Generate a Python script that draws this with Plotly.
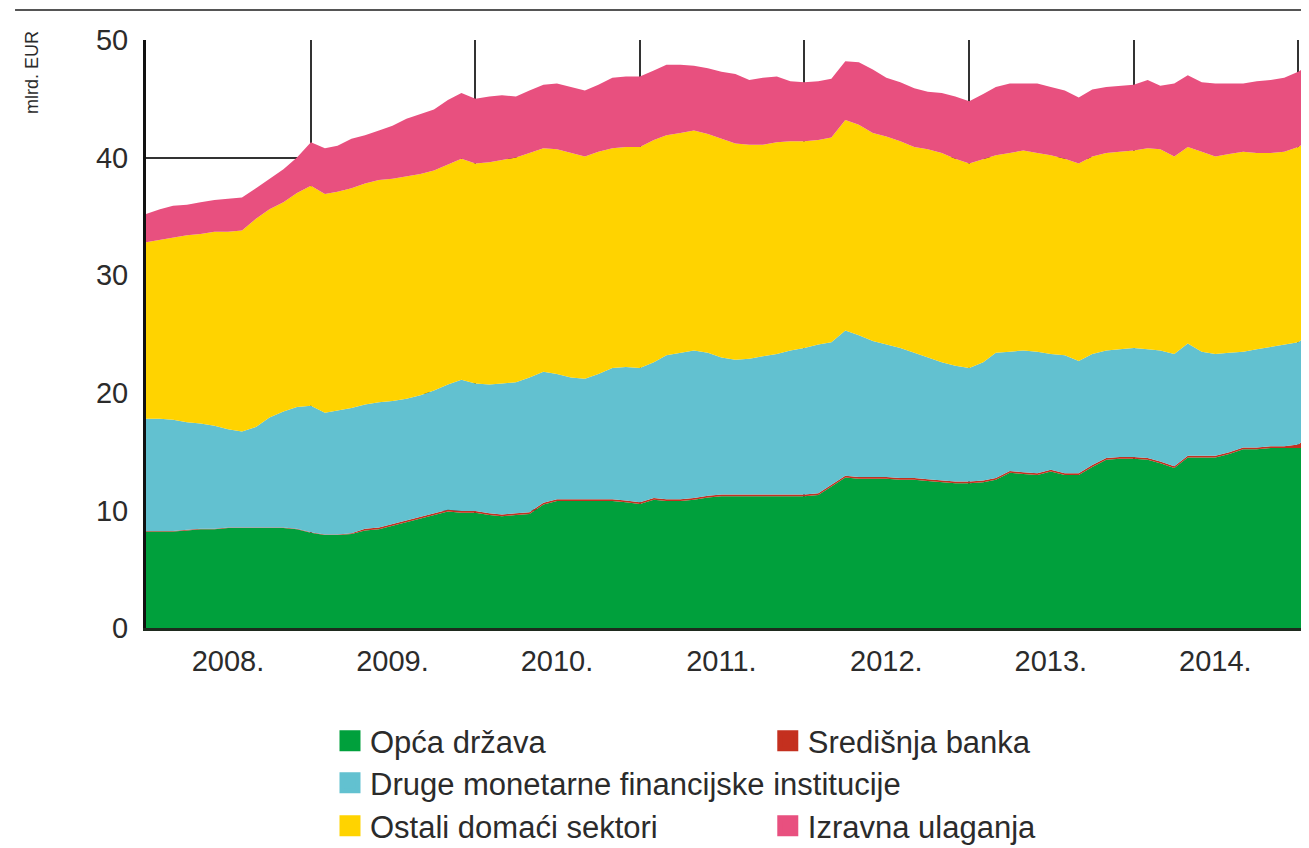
import pandas as pd
import plotly.graph_objects as go

# monthly observations, Jan 2008 - Feb 2015 (billions of EUR)
months = pd.date_range("2008-01-01", periods=86, freq="MS")

opca_drzava = [
    8.2, 8.2, 8.2, 8.3, 8.4, 8.4, 8.5, 8.5, 8.5, 8.5, 8.5, 8.4,
    8.1, 7.9, 7.9, 8.0, 8.3, 8.4, 8.7, 9.0, 9.3, 9.6, 9.9, 9.8,
    9.8, 9.6, 9.5, 9.6, 9.7, 10.5, 10.8, 10.8, 10.8, 10.8, 10.8, 10.7,
    10.55, 10.9, 10.8, 10.8, 10.9, 11.1, 11.2, 11.2, 11.2, 11.2, 11.2, 11.2,
    11.2, 11.3, 12.0, 12.8, 12.7, 12.7, 12.7, 12.6, 12.6, 12.5, 12.4, 12.3,
    12.3, 12.4, 12.6, 13.2, 13.1, 13.0, 13.3, 13.0, 13.0, 13.7, 14.3, 14.4,
    14.4, 14.3, 14.0, 13.6, 14.5, 14.5, 14.5, 14.8, 15.2, 15.2, 15.3, 15.3,
    15.3, 15.3,
]
sredisnja_banka = [
    0.05, 0.05, 0.05, 0.05, 0.05, 0.05, 0.05, 0.05, 0.05, 0.05, 0.05, 0.05,
    0.05, 0.05, 0.05, 0.05, 0.15, 0.15, 0.15, 0.15, 0.15, 0.15, 0.15, 0.15,
    0.15, 0.15, 0.15, 0.15, 0.15, 0.15, 0.15, 0.15, 0.15, 0.15, 0.15, 0.15,
    0.15, 0.15, 0.15, 0.15, 0.15, 0.15, 0.15, 0.15, 0.15, 0.15, 0.15, 0.15,
    0.15, 0.15, 0.15, 0.15, 0.15, 0.15, 0.15, 0.15, 0.15, 0.15, 0.15, 0.15,
    0.15, 0.15, 0.15, 0.15, 0.15, 0.15, 0.15, 0.15, 0.15, 0.15, 0.15, 0.15,
    0.15, 0.15, 0.15, 0.15, 0.15, 0.15, 0.15, 0.15, 0.15, 0.15, 0.15, 0.15,
    0.3, 1.2,
]
druge_mfi = [
    9.55, 9.55, 9.45, 9.15, 8.95, 8.75, 8.35, 8.15, 8.55, 9.35, 9.85, 10.35,
    10.75, 10.35, 10.55, 10.65, 10.55, 10.65, 10.45, 10.35, 10.35, 10.45, 10.65, 11.15,
    10.85, 10.95, 11.15, 11.15, 11.45, 11.15, 10.65, 10.35, 10.25, 10.65, 11.15, 11.35,
    11.4, 11.55, 12.25, 12.45, 12.55, 12.15, 11.65, 11.45, 11.55, 11.75, 11.95, 12.25,
    12.45, 12.65, 12.15, 12.35, 12.05, 11.55, 11.25, 11.05, 10.65, 10.35, 10.05, 9.85,
    9.65, 10.05, 10.65, 10.15, 10.35, 10.35, 9.85, 10.05, 9.55, 9.45, 9.15, 9.15,
    9.25, 9.25, 9.45, 9.55, 9.55, 8.85, 8.65, 8.45, 8.15, 8.35, 8.45, 8.65,
    8.7, 8.6,
]
ostali_domaci = [
    15.0, 15.2, 15.5, 15.9, 16.1, 16.5, 16.8, 17.1, 17.7, 17.7, 17.8, 18.2,
    18.7, 18.6, 18.6, 18.7, 18.8, 18.9, 18.9, 18.9, 18.8, 18.7, 18.7, 18.8,
    18.7, 18.9, 19.0, 19.1, 19.1, 19.0, 19.1, 19.1, 18.9, 18.9, 18.7, 18.7,
    18.8, 18.9, 18.7, 18.7, 18.7, 18.6, 18.6, 18.4, 18.2, 18.0, 18.0, 17.8,
    17.6, 17.4, 17.4, 17.9, 17.9, 17.7, 17.7, 17.6, 17.5, 17.7, 17.8, 17.6,
    17.4, 17.3, 16.8, 16.9, 17.0, 16.9, 16.9, 16.7, 16.8, 16.8, 16.8, 16.8,
    16.8, 17.1, 17.1, 16.8, 16.7, 17.0, 16.8, 16.9, 17.0, 16.7, 16.5, 16.4,
    16.6, 16.5,
]
izravna_ulaganja = [
    2.4, 2.6, 2.7, 2.6, 2.7, 2.7, 2.8, 2.8, 2.6, 2.6, 2.8, 3.0,
    3.7, 3.9, 3.9, 4.2, 4.1, 4.2, 4.5, 4.9, 5.1, 5.2, 5.5, 5.6,
    5.5, 5.6, 5.5, 5.2, 5.3, 5.4, 5.6, 5.6, 5.6, 5.7, 6.0, 6.0,
    6.0, 5.9, 6.0, 5.8, 5.5, 5.6, 5.7, 5.9, 5.5, 5.7, 5.6, 5.1,
    5.0, 5.0, 5.0, 5.0, 5.3, 5.4, 5.0, 5.0, 5.0, 4.9, 5.1, 5.3,
    5.3, 5.5, 5.8, 5.9, 5.7, 5.9, 5.8, 5.8, 5.6, 5.7, 5.6, 5.6,
    5.6, 5.8, 5.4, 6.2, 6.1, 5.9, 6.2, 6.0, 5.8, 6.1, 6.2, 6.3,
    6.4, 6.4,
]

year_labels = ["2008.", "2009.", "2010.", "2011.", "2012.", "2013.", "2014."]
label_dates = [f"{y}-07-01" for y in range(2008, 2015)]
year_starts = [f"{y}-01-01" for y in range(2008, 2016)]

# name, values, colour, legend id, legend position (container coords)
series = [
    ("Opća država", opca_drzava, "#00a03c", "legend", 0.2475, 0.1274),
    ("Središnja banka", sredisnja_banka, "#c4301f", "legend2", 0.584, 0.1274),
    ("Druge monetarne financijske institucije", druge_mfi, "#62c1d0", "legend3", 0.2475, 0.0774),
    ("Ostali domaći sektori", ostali_domaci, "#ffd300", "legend4", 0.2475, 0.0262),
    ("Izravna ulaganja", izravna_ulaganja, "#e8507f", "legend5", 0.584, 0.0262),
]

font = "Liberation Sans, Arial, sans-serif"
txt = "#2b2b2b"

fig = go.Figure()
for name, vals, color, leg, lx, ly in series:
    fig.add_trace(
        go.Scatter(
            x=months, y=vals, name=name, stackgroup="one", mode="lines",
            line=dict(width=0, color=color), fillcolor=color,
            showlegend=False, hoverinfo="x+y+name",
        )
    )
# legend entries as square swatches
for name, vals, color, leg, lx, ly in series:
    fig.add_trace(
        go.Scatter(
            x=[None], y=[None], name=name, mode="markers", legend=leg,
            marker=dict(symbol="square", size=16, color=color,
                        line=dict(width=5, color=color)),
        )
    )

legend_style = dict(
    orientation="v", xref="container", yref="container",
    xanchor="left", yanchor="middle",
    font=dict(family=font, size=31, color=txt), bgcolor="rgba(0,0,0,0)",
)
layout_legends = {}
for name, vals, color, leg, lx, ly in series:
    layout_legends[leg] = dict(legend_style, x=lx, y=ly)

# the page adds an 8px body margin, so the figure is 8px smaller than the window
fig.update_layout(
    width=1301, height=840,
    margin=dict(l=138, r=0, t=32, b=220, autoexpand=False),
    plot_bgcolor="white", paper_bgcolor="white",
    font=dict(family=font, size=30, color=txt),
    showlegend=True,
    **layout_legends,
)

fig.update_xaxes(
    type="date",
    range=["2008-01-01", "2015-01-25"],
    tickmode="array", tickvals=label_dates, ticktext=year_labels,
    ticks="", ticklabelstandoff=5,
    tickfont=dict(family=font, size=29, color=txt),
    showgrid=False,
    minor=dict(tickmode="array", tickvals=year_starts, showgrid=True,
               gridcolor="#333333", gridwidth=2, ticks=""),
    showline=True, linecolor="#1e2a1e", linewidth=3,
    zeroline=False,
)
fig.update_yaxes(
    range=[0, 50], tickvals=[0, 10, 20, 30, 40, 50],
    ticks="", ticklabelstandoff=9,
    tickfont=dict(family=font, size=29, color=txt),
    showgrid=True, gridcolor="#333333", gridwidth=2,
    showline=True, linecolor="#111111", linewidth=3,
    zeroline=False,
)

# unit label
fig.add_annotation(
    text="mlrd. EUR", textangle=-90, showarrow=False,
    xref="paper", yref="paper", x=-0.098, y=0.944,
    xanchor="center", yanchor="middle",
    font=dict(family=font, size=18, color=txt),
)
# rule above the chart
fig.add_shape(
    type="line", xref="paper", yref="paper",
    x0=-0.1126, x1=1.0, y0=1.051, y1=1.051,
    line=dict(color="#555555", width=2),
)

fig.write_html("out.html")
